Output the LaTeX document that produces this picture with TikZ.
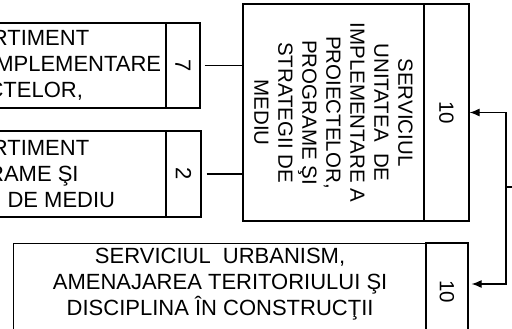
\documentclass[tikz,border=0pt]{standalone}
\usepackage{fontspec}
\setmainfont{Liberation Sans}
\usetikzlibrary{arrows.meta}

\tikzset{
  texto/.style={align=center, font=\fontsize{22}{26}\selectfont},
  caja/.style={texto, draw, line width=1.2pt, inner sep=0pt},
  columna/.style={caja, rotate=-90},
  linea/.style={line width=1.2pt},
  flecha/.style={linea, -{Latex[length=10pt,width=8pt]}}
}

\begin{document}
\begin{tikzpicture}[x=1pt, y=1pt]
    % Marco de la figura
    \useasboundingbox (0,0) rectangle (512,-329);
    % Compartimentos de la izquierda
    \node[caja, minimum width=330pt, minimum height=85pt] (comp1) at (1,-65.5) {COMPARTIMENT\\UNITATEA DE IMPLEMENTARE\\PROIECTELOR,};
    \node[columna, minimum width=85pt, minimum height=34pt] (nr1) at (183,-65.5) {7};
    \node[caja, minimum width=330pt, minimum height=86pt] (comp2) at (1,-174) {COMPARTIMENT\\PROGRAME ŞI\\STRATEGII DE MEDIU};
    \node[columna, minimum width=86pt, minimum height=35pt] (nr2) at (183.5,-174) {2};
    % Serviciul (texto vertical)
    \node[columna, font=\fontsize{20.5}{24}\selectfont, minimum width=217pt, minimum height=181pt] (serv) at (333.5,-112.5) {SERVICIUL\\UNITATEA\ \ DE\\IMPLEMENTARE A\\PROIECTELOR,\\PROGRAME ŞI\\STRATEGII DE\\MEDIU};
    \node[columna, font=\fontsize{20.5}{24}\selectfont, minimum width=217pt, minimum height=45pt] (nrserv) at (446.5,-112.5) {10};
    % Serviciul urbanism (sigue debajo del marco)
    \node[caja, minimum width=413pt, minimum height=97pt, anchor=north west] (urb) at (13,-243) {};
    \node[texto] (texturb) at (urb.north |- 0,-284) {SERVICIUL\ \ URBANISM,\\AMENAJAREA TERITORIULUI ŞI\\DISCIPLINA ÎN CONSTRUCŢII};
    \node[columna, font=\fontsize{20.5}{24}\selectfont, minimum width=97pt, minimum height=42pt] (nrurb) at (447,-291.5) {10};
    % Conexiones
    \draw[linea, shorten <=4pt] (nr1.north) -- (nr1.north -| serv.south);
    \draw[linea, shorten <=5pt] (nr2.north) -- (nr2.north -| serv.south);
    \coordinate (nodo) at (506,-187);
    \coordinate (afuera) at (520,-187);
    \draw[linea] (afuera) -- (nodo);
    \draw[flecha] (nodo) |- (nrserv.north);
    \draw[flecha, shorten >=3pt] (nodo) |- ([yshift=7.5pt]nrurb.north);
\end{tikzpicture}
\end{document}
